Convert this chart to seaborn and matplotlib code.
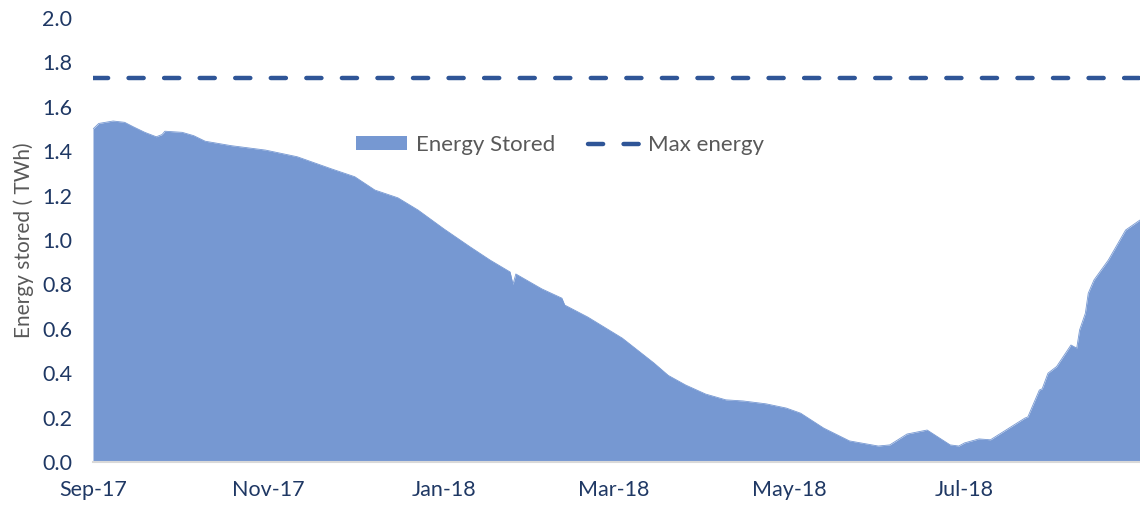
import matplotlib
matplotlib.use("Agg")
import matplotlib.pyplot as plt
import matplotlib.dates as mdates
import numpy as np
import pandas as pd
import seaborn as sns

# Stored energy readings (TWh) at dates through the hydrological year
dates = [
    "2017-09-01", "2017-09-03", "2017-09-08", "2017-09-12", "2017-09-15",
    "2017-09-19", "2017-09-23", "2017-09-25", "2017-09-26", "2017-10-02",
    "2017-10-06", "2017-10-10", "2017-10-19", "2017-10-31", "2017-11-11",
    "2017-11-23", "2017-12-01", "2017-12-08", "2017-12-16", "2017-12-23",
    "2018-01-01", "2018-01-10", "2018-01-17", "2018-01-24", "2018-01-25",
    "2018-01-26", "2018-02-04", "2018-02-11", "2018-02-12", "2018-02-16",
    "2018-02-20", "2018-03-04", "2018-03-15", "2018-03-20", "2018-03-26",
    "2018-04-02", "2018-04-09", "2018-04-15", "2018-04-23", "2018-04-30",
    "2018-05-05", "2018-05-13", "2018-05-22", "2018-06-01", "2018-06-05",
    "2018-06-11", "2018-06-18", "2018-06-26", "2018-06-29", "2018-07-01",
    "2018-07-06", "2018-07-10", "2018-07-22", "2018-07-23", "2018-07-27",
    "2018-07-28", "2018-07-30", "2018-08-02", "2018-08-07", "2018-08-09",
    "2018-08-10", "2018-08-12", "2018-08-13", "2018-08-15", "2018-08-20",
    "2018-08-26", "2018-08-31",
]
energy_stored = [
    1.50, 1.525, 1.536, 1.53, 1.51,
    1.485, 1.465, 1.475, 1.49, 1.485,
    1.47, 1.445, 1.425, 1.405, 1.375,
    1.32, 1.285, 1.225, 1.19, 1.135,
    1.05, 0.97, 0.91, 0.856, 0.80,
    0.847, 0.78, 0.738, 0.707, 0.68,
    0.653, 0.558, 0.446, 0.39, 0.347,
    0.306, 0.28, 0.275, 0.262, 0.243,
    0.22, 0.153, 0.095, 0.072, 0.077,
    0.126, 0.144, 0.077, 0.072, 0.086,
    0.104, 0.10, 0.198, 0.203, 0.324,
    0.33, 0.40, 0.43, 0.527, 0.513,
    0.595, 0.67, 0.76, 0.82, 0.91,
    1.045, 1.09,
]
max_energy = 1.73
y_ticks = [0.0, 0.2, 0.4, 0.6, 0.8, 1.0, 1.2, 1.4, 1.6, 1.8, 2.0]

df = pd.DataFrame({"date": pd.to_datetime(dates), "stored": energy_stored})
cap = pd.DataFrame({"date": pd.to_datetime([dates[0], dates[-1]]),
                    "max": [max_energy, max_energy]})

sns.set_theme(style="white")
plt.rcParams["font.family"] = ["Lato", "DejaVu Sans"]

fill_color = "#7698D2"
line_color = "#2F5597"
tick_color = "#1F3864"
grey_text = "#595959"

fig = plt.figure(figsize=(11.40, 5.11), dpi=100)
ax = fig.add_axes([93 / 1140, 1 - 462 / 511, (1140 - 93) / 1140, 444 / 511])

ax.fill_between(df["date"], 0, df["stored"], color=fill_color, linewidth=0,
                label="Energy Stored")
sns.lineplot(data=df, x="date", y="stored", ax=ax, color=fill_color,
             linewidth=0.6, legend=False)
sns.lineplot(data=cap, x="date", y="max", ax=ax, color=line_color,
             linewidth=3.2, dashes=False, legend=False)
max_line = ax.lines[-1]
max_line.set_dashes((3.4, 4.6))
max_line.set_dash_capstyle("round")
max_line.set_label("Max energy")

ax.set_xlim(pd.Timestamp("2017-09-01"), pd.Timestamp("2018-08-31"))
ax.set_ylim(0, 2.0)
ax.set_yticks(y_ticks)
ax.set_yticklabels([f"{v:.1f}" for v in y_ticks])

tick_dates = pd.to_datetime(["2017-09-01", "2017-11-01", "2018-01-01",
                             "2018-03-01", "2018-05-01", "2018-07-01"])
ax.set_xticks(tick_dates)
ax.xaxis.set_major_formatter(mdates.DateFormatter("%b-%y"))

for side in ["top", "right", "left"]:
    ax.spines[side].set_visible(False)
ax.spines["bottom"].set_color("#D9D9D9")
ax.spines["bottom"].set_linewidth(1.5)

ax.tick_params(axis="x", colors="#D9D9D9", length=5, width=1.2, pad=8,
               labelcolor=tick_color, labelsize=15.5)
ax.tick_params(axis="y", length=0, pad=15, labelcolor=tick_color, labelsize=15.5)

ax.set_xlabel("")
ax.set_ylabel("Energy stored ( TWh)", color=grey_text, fontsize=15, labelpad=6)

handles, labels = ax.get_legend_handles_labels()
order = [labels.index("Energy Stored"), labels.index("Max energy")]
fig.legend([handles[i] for i in order], [labels[i] for i in order],
           loc="center", bbox_to_anchor=(560 / 1140, 1 - 145 / 511),
           ncol=2, frameon=False, fontsize=16, labelcolor=grey_text,
           handlelength=2.3, handleheight=0.55, handletextpad=0.4,
           columnspacing=1.5)

fig.savefig("out.png", dpi=100)
